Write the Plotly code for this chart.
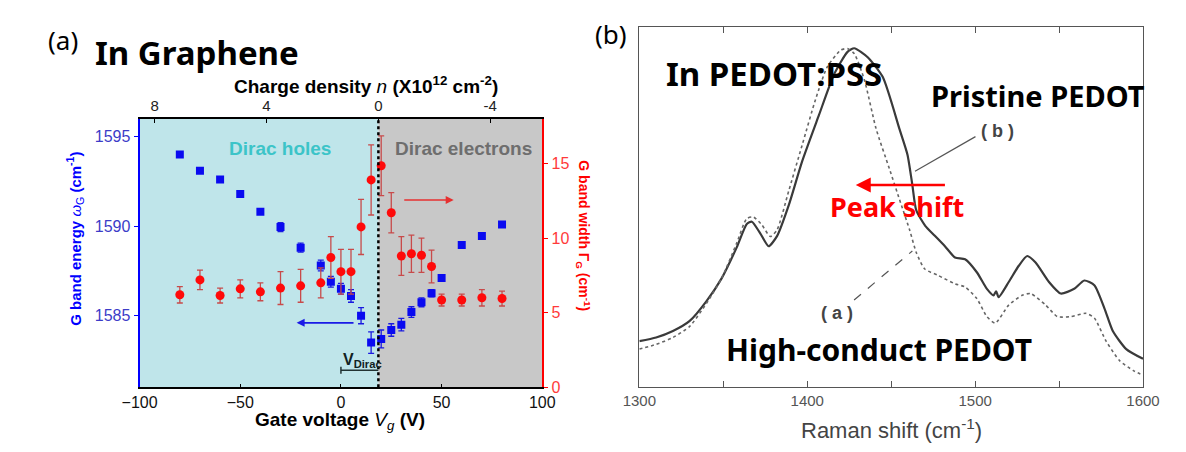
import plotly.graph_objects as go

W, H = 1186, 452

# ---------------- Panel (a) data ----------------
gate_v = [-80, -70, -60, -50, -40, -30, -20, -10, -5, 0, 5, 10, 15, 20, 25, 30, 35, 40, 45, 50, 60, 70, 80]
g_energy = [1594.0, 1593.1, 1592.6, 1591.8, 1590.8, 1589.95, 1588.8, 1587.8, 1586.9, 1586.5, 1586.1, 1585.0,
            1583.5, 1583.7, 1584.2, 1584.5, 1585.2, 1585.75, 1586.25, 1587.1, 1588.95, 1589.45, 1590.1]
g_energy_err = [0, 0, 0, 0, 0, 0.25, 0.25, 0.3, 0.3, 0.3, 0.35, 0.45, 0.6, 0.5, 0.35, 0.35, 0.3, 0.25, 0.2,
                0, 0, 0, 0]
g_width = [6.2, 7.2, 6.15, 6.6, 6.4, 6.65, 6.8, 7.0, 8.7, 7.75, 7.75, 10.75, 13.9, 14.85, 11.7, 8.8, 8.95,
           8.85, 8.1, 5.85, 5.85, 6.0, 5.95]
g_width_err = [0.55, 0.65, 0.5, 0.6, 0.6, 1.1, 1.1, 1.0, 1.4, 1.5, 1.5, 1.85, 2.35, 2.0, 1.35, 1.3, 1.25,
               1.15, 1.1, 0.4, 0.4, 0.55, 0.5]
v_dirac = 18.6
gate_ticks = [-100, -50, 0, 50, 100]
energy_ticks = [1585, 1590, 1595]
width_ticks = [0, 5, 10, 15]
density_ticks = [8, 4, 0, -4]

# ---------------- Panel (b) data ----------------
raman_b = [1300, 1310, 1320, 1330, 1340, 1349, 1358, 1364, 1367, 1372, 1377, 1382, 1389, 1397, 1407, 1416,
           1424, 1428, 1436, 1445, 1455, 1459.7, 1462.6, 1464.9, 1470.4, 1476, 1482, 1488, 1494, 1501, 1507,
           1511, 1512.5, 1514, 1520, 1526, 1531, 1536, 1544, 1551, 1559, 1565, 1571, 1577, 1582, 1590, 1600]
int_b = [12.8, 13.8, 15.6, 18.4, 23.9, 30.2, 38.8, 45.3, 45.9, 42.7, 39.1, 41.9, 50.5, 62.7, 75.5, 86.8,
         93.0, 94.0, 91.5, 86.0, 71.5, 64.5, 56.1, 49.1, 44.7, 42.0, 39.1, 36.0, 35.5, 31.9, 27.3,
         25.5, 26.6, 25.0, 29.2, 33.7, 36.4, 34.6, 29.2, 26.0, 27.3, 29.6, 28.3, 21.9, 15.6, 10.6, 7.9]
raman_a = [1300, 1310, 1320, 1330, 1340, 1349, 1358, 1364, 1368, 1373, 1378, 1382, 1389, 1397, 1405, 1412,
           1420, 1424, 1428, 1434, 1441, 1449, 1455, 1461, 1465, 1470, 1478, 1488, 1494, 1501, 1507, 1512,
           1520, 1528, 1533, 1542, 1549, 1557, 1566, 1571, 1578, 1586, 1594, 1600]
int_a = [10.6, 11.9, 13.8, 16.9, 23.3, 30.2, 40.0, 46.8, 47.2, 45.0, 41.8, 43.6, 54.5, 67.2, 79.9, 88.9,
         93.5, 93.9, 92.5, 85.3, 71.7, 60.5, 52.0, 43.6, 37.3, 32.8, 31.0, 28.7, 27.8, 24.6, 19.6, 17.8,
         22.8, 25.5, 26.0, 22.8, 19.6, 19.6, 20.5, 19.2, 12.8, 7.4, 4.7, 3.3]
raman_ticks = [1300, 1400, 1500, 1600]


def px(x):
    return x / W


def py(y):
    return 1 - y / H


fig = go.Figure()

# Panel (a) traces
fig.add_trace(go.Scatter(
    x=gate_v, y=g_energy, mode="markers", xaxis="x", yaxis="y",
    marker=dict(symbol="square", size=8, color="#0a0af0"),
    error_y=dict(type="data", array=g_energy_err, color="#1a1ae0", thickness=1.3, width=3),
    showlegend=False))
fig.add_trace(go.Scatter(
    x=gate_v, y=g_width, mode="markers", xaxis="x", yaxis="y2",
    marker=dict(symbol="circle", size=9, color="#ff0a0a"),
    error_y=dict(type="data", array=g_width_err, color="#c84a4a", thickness=1.3, width=3),
    showlegend=False))
# invisible trace to activate top axis
fig.add_trace(go.Scatter(x=density_ticks, y=[1590] * 4, xaxis="x2", yaxis="y", mode="markers",
                         marker=dict(opacity=0), hoverinfo="skip", showlegend=False))

# Panel (b) traces
fig.add_trace(go.Scatter(x=raman_b, y=int_b, mode="lines", xaxis="x3", yaxis="y3",
                         line=dict(color="#3a3a3a", width=2.2, shape="spline", smoothing=0.6),
                         showlegend=False))
fig.add_trace(go.Scatter(x=raman_a, y=int_a, mode="lines", xaxis="x3", yaxis="y3",
                         line=dict(color="#666666", width=1.6, dash="dot", shape="spline", smoothing=0.6),
                         showlegend=False))

arial = "Arial, Liberation Sans, sans-serif"
tickfont = dict(family=arial, size=16, color="#111111")

fig.update_layout(
    width=W, height=H, margin=dict(l=0, r=0, t=0, b=0),
    paper_bgcolor="white", plot_bgcolor="rgba(0,0,0,0)",
    font=dict(family=arial),
    xaxis=dict(domain=[px(117), px(532)], range=[-100, 100], anchor="y",
               tickvals=gate_ticks, ticks="inside", ticklen=4, tickcolor="black",
               showline=True, linecolor="black", linewidth=1.5, showgrid=False, zeroline=False,
               tickfont=tickfont),
    xaxis2=dict(overlaying="x", side="top", anchor="y", range=[8.54, -5.86],
                tickvals=density_ticks, ticktext=[str(t) for t in density_ticks],
                ticks="inside", ticklen=4, tickcolor="black",
                showline=True, linecolor="black", linewidth=1.5, showgrid=False, zeroline=False,
                tickfont=dict(family=arial, size=15, color="#222")),
    yaxis=dict(domain=[py(387), py(113)], range=[1581, 1596], anchor="x",
               tickvals=energy_ticks, ticks="outside", ticklen=4, tickcolor="#0000ff",
               showline=True, linecolor="#0000ff", linewidth=2, showgrid=False, zeroline=False,
               tickfont=dict(family=arial, size=16, color="#3c3cc8")),
    yaxis2=dict(overlaying="y", side="right", anchor="x", range=[0, 18],
                tickvals=width_ticks, ticks="outside", ticklen=4, tickcolor="#ff0000",
                showline=True, linecolor="#ff0000", linewidth=2, showgrid=False, zeroline=False,
                tickfont=dict(family=arial, size=16, color="#ff3a3a")),
    xaxis3=dict(domain=[px(632), px(1151)], range=[1300, 1600], anchor="y3",
                tickvals=raman_ticks, ticks="inside", ticklen=6, tickcolor="#555",
                minor=dict(dtick=50, ticks="inside", ticklen=6, tickcolor="#555"),
                showline=True, mirror="ticks", linecolor="#555", linewidth=1.3,
                showgrid=False, zeroline=False,
                tickfont=dict(family=arial, size=15, color="#555")),
    yaxis3=dict(domain=[py(387), py(19)], range=[0, 100], anchor="x3",
                showline=True, mirror=True, linecolor="#555", linewidth=1.3,
                showticklabels=False, ticks="", showgrid=False, zeroline=False),
)

# background regions (panel a)
fig.add_shape(type="rect", xref="x", yref="y", x0=-100, x1=v_dirac, y0=1581, y1=1596,
              fillcolor="#bfe5ea", line=dict(width=0), layer="below")
fig.add_shape(type="rect", xref="x", yref="y", x0=v_dirac, x1=100, y0=1581, y1=1596,
              fillcolor="#c8c8c8", line=dict(width=0), layer="below")
fig.add_shape(type="line", xref="x", yref="y", x0=v_dirac, x1=v_dirac, y0=1581, y1=1596,
              line=dict(color="black", width=2.5, dash="dot"))
# V_Dirac bracket
fig.add_shape(type="line", xref="x", yref="y", x0=0, x1=v_dirac, y0=1581.95, y1=1581.95,
              line=dict(color="#223333", width=1.5))
fig.add_shape(type="line", xref="x", yref="y", x0=0, x1=0, y0=1581.75, y1=1582.15,
              line=dict(color="#223333", width=1.5))

# leader lines (panel b)
fig.add_shape(type="line", xref="x3", yref="y3", x0=1500.2, y0=69.5, x1=1464.2, y1=59.9,
              line=dict(color="#555", width=1.2))
fig.add_shape(type="line", xref="x3", yref="y3", x0=1427.9, y0=24.2, x1=1462.6, y1=37.8,
              line=dict(color="#555", width=1.2, dash="dash"))

ann = []


def text(x, y, s, size, color="black", family="Noto Sans, Arial, sans-serif", angle=0, xanchor="center"):
    ann.append(dict(x=px(x), y=py(y), xref="paper", yref="paper", text=s, showarrow=False,
                    font=dict(family=family, size=size, color=color), textangle=angle,
                    xanchor=xanchor, yanchor="middle"))


text(38, 33, "(a)", 26)
text(176, 45, "<b>In Graphene</b>", 33)
text(350, 79, "<b>Charge density </b><i>n</i><b> (X10<sup>12</sup> cm<sup>-2</sup>)</b>", 19, family=arial)
text(324, 421, "<b>Gate voltage </b><i>V</i><sub><i>g</i></sub><b> (V)</b>", 19, family=arial)
text(50, 236, "<b>G band energy </b><i>ω</i><sub>G</sub><b> (cm<sup>-1</sup>)</b>", 15, color="#0000ff",
     family=arial, angle=-90)
text(574, 232, "<b>G band width Γ<sub>G</sub> (cm<sup>-1</sup>)</b>", 14, color="#ff0000",
     family=arial, angle=90)
text(262, 143, "<b>Dirac holes</b>", 19, color="#3cc4c8", family=arial)
text(451, 143, "<b>Dirac electrons</b>", 19, color="#6e6e6e", family=arial)
text(325, 360, "<b>V<sub>Dirac</sub></b>", 16, color="#112222", family=arial, xanchor="left")

text(603, 27, "(b)", 26)
text(771, 67, "<b>In PEDOT:PSS</b>", 33)
text(1043, 89, "<b>Pristine PEDOT</b>", 29)
text(1001, 126, "<b>( b )</b>", 18, color="#444", family=arial)
text(897, 203, "<b>Peak shift</b>", 27, color="#ff0000")
text(836, 311, "<b>( a )</b>", 18, color="#444", family=arial)
text(879, 348, "<b>High-conduct PEDOT</b>", 30)
text(892, 430, "Raman shift (cm<sup>-1</sup>)", 22, color="#444", family=arial)

# arrows
ann.append(dict(xref="x", yref="y", x=-22, y=1584.6, axref="x", ayref="y", ax=7, ay=1584.6,
                text="", showarrow=True, arrowhead=2, arrowsize=1, arrowwidth=1.6, arrowcolor="#1a1ae6"))
ann.append(dict(xref="x", yref="y2", x=56, y=12.55, axref="x", ayref="y2", ax=30.7, ay=12.55,
                text="", showarrow=True, arrowhead=2, arrowsize=1, arrowwidth=1.6, arrowcolor="#e63030"))
ann.append(dict(xref="x3", yref="y3", x=1428.9, y=56.1, axref="x3", ayref="y3", ax=1482.9, ay=56.1,
                text="", showarrow=True, arrowhead=2, arrowsize=1.2, arrowwidth=2.5, arrowcolor="#ff0000"))

fig.update_layout(annotations=ann)
fig.write_html("out.html")
